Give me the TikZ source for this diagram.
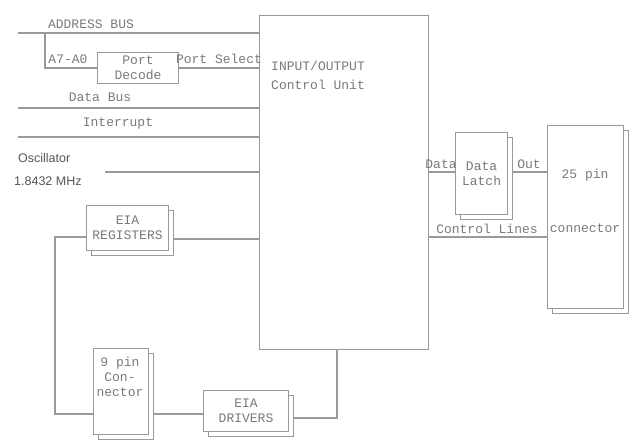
\documentclass[tikz,border=0pt]{standalone}
\usepackage{fontspec}
\setmainfont{Liberation Mono}
\newfontfamily\oscfont{Liberation Sans}
\usetikzlibrary{shadows,calc}
\definecolor{linec}{HTML}{9A9A9A}
\definecolor{txtc}{HTML}{7A7A7A}
\definecolor{osct}{HTML}{555555}
\begin{document}
\begin{tikzpicture}[x=1pt,y=-1pt,
  ln/.style={draw=linec, line width=1.1pt},
  txt/.style={text=txtc, font=\fontsize{13}{15}\selectfont, inner sep=1pt},
  box/.style={draw=linec, line width=1.1pt, fill=white, inner sep=1pt, align=center,
    text=txtc, font=\fontsize{13}{15}\selectfont, anchor=north west},
  sbox/.style={box, copy shadow={shadow xshift=5pt, shadow yshift=-5pt, draw=linec, fill=white, line width=1.1pt}},
  osc/.style={text=osct, font=\oscfont\fontsize{12.5}{14}\selectfont, inner sep=0pt, anchor=west}]
\useasboundingbox (0,0) rectangle (632,441);
% main unit
\node[box, minimum width=169pt, minimum height=334pt] (main) at (259,15) {};
\node[txt, anchor=north west, align=left, font=\fontsize{13}{19}\selectfont] (mainlbl) at (270,60) {INPUT/OUTPUT\\Control Unit};
% port decode
\node[box, minimum width=81pt, minimum height=31pt] (dec) at (97,52) {Port\\Decode};
% shadowed boxes
\node[sbox, minimum width=82pt, minimum height=45pt] (regs) at (86,205) {EIA\\REGISTERS};
\node[sbox, minimum width=55pt, minimum height=86pt] (conn9) at (93,348) {};
\node[txt, align=center, anchor=north] (conn9t) at (120,356) {9 pin\\Con-\\nector};
\node[sbox, minimum width=85pt, minimum height=41pt] (drv) at (203,390) {EIA\\DRIVERS};
\node[sbox, minimum width=52pt, minimum height=82pt] (latch) at (455,132) {Data\\Latch};
\node[sbox, minimum width=76pt, minimum height=183pt] (db25) at (547,125) {};
\node[txt] (db25a) at (585,175) {25 pin};
\node[txt] (db25b) at (585,228) {connector};
% bus lines
\coordinate (abL) at (18,33);
\coordinate (abT) at (45,33);
\draw[ln] (abL) -- (abL -| main.west);
\node[txt] (ablbl) at (91,24) {ADDRESS BUS};
\draw[ln] (abT) |- (dec.west);
\node[txt] (alow) at (68,59) {A7-A0};
\draw[ln] (dec.east) -- (dec.east -| main.west);
\node[txt] (pslbl) at (219,59) {Port Select};
\coordinate (dbL) at (18,108);
\draw[ln] (dbL) -- (dbL -| main.west);
\node[txt] (dblbl) at (100,97) {Data Bus};
\coordinate (irL) at (18,137);
\draw[ln] (irL) -- (irL -| main.west);
\node[txt] (irlbl) at (118,124) {Interrupt};
\coordinate (oscL) at (105,172);
\draw[ln] (oscL) -- (oscL -| main.west);
\node[osc] (osc1) at (18,158) {Oscillator};
\node[osc] (osc2) at (14,181) {1.8432 MHz};
% registers and loop
\coordinate (rg) at (0,239);
\draw[ln] ([xshift=5pt]regs.east |- rg) -- (main.west |- rg);
\coordinate (lpA) at (55,237);
\coordinate (lpB) at (55,414);
\draw[ln] (regs.west |- lpA) -- (lpA) -- (lpB) -- (conn9.west |- lpB);
\draw[ln] ([xshift=5pt]conn9.east |- lpB) -- (drv.west |- lpB);
\coordinate (dr) at (337,418);
\draw[ln] ([xshift=5pt]drv.east |- dr) -- (dr) -- (dr |- main.south);
% right side
\coordinate (dy) at (0,172);
\draw[ln] (main.east |- dy) -- (latch.west |- dy);
\node[txt] (dlbl) at (441,164) {Data};
\draw[ln] ([xshift=5pt]latch.east |- dy) -- (db25.west |- dy);
\node[txt] (olbl) at (529,164) {Out};
\coordinate (cy) at (0,237);
\draw[ln] (main.east |- cy) -- (db25.west |- cy);
\node[txt] (clbl) at (487,229) {Control Lines};
\end{tikzpicture}
\end{document}
